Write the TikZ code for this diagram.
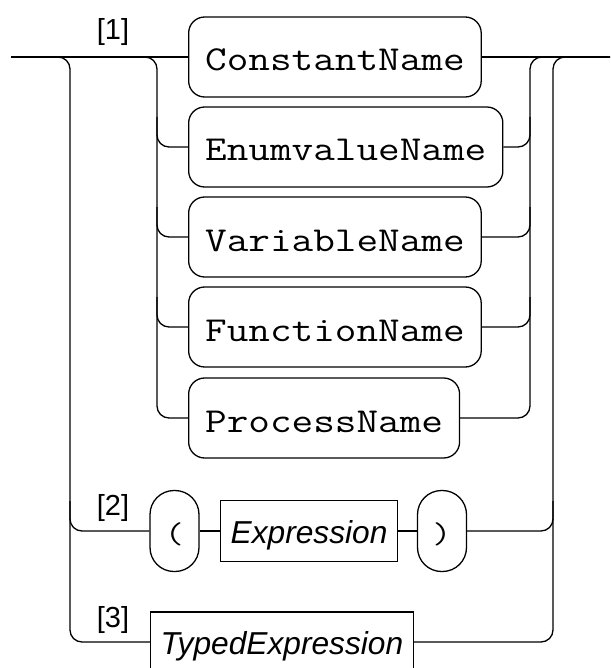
\documentclass[tikz,border=0pt]{standalone}
\usepackage{fontspec}
\setmainfont{Liberation Sans}
\newfontfamily\crfont[FakeStretch=1.2]{Latin Modern Mono}
\usetikzlibrary{calc}
\begin{document}
\begin{tikzpicture}[x=1pt,y=-1pt,line width=1.3pt,
  rail/.style={rounded corners=12pt},
  namebox/.style={draw,rounded corners=16pt,font=\fontsize{35}{35}\crfont,
    text height=30pt,text depth=2pt,minimum height=80pt,inner xsep=16.5pt,inner ysep=0pt,anchor=west},
  parbox/.style={draw,rounded corners=24pt,font=\fontsize{30}{30}\crfont,
    text height=26pt,text depth=2pt,minimum height=81pt,minimum width=49pt,inner sep=0pt},
  ntbox/.style={draw,font=\fontsize{31.7}{32}\selectfont\itshape,
    text height=26pt,text depth=2pt,minimum height=61pt,inner xsep=10pt,inner ysep=0pt,anchor=west},
  lbl/.style={font=\fontsize{29}{29}\selectfont,anchor=base,inner sep=0pt}]
\useasboundingbox (0,0) rectangle (610,668);
\coordinate (start) at (11,57);
\coordinate (end) at (610,57);
\coordinate (lo) at (70,0);
\coordinate (li) at (157,0);
\coordinate (ri) at (530,0);
\coordinate (ro) at (553,0);

\node[namebox] (c1) at (188,57) {ConstantName};
\node[namebox] (c2) at (188,147) {EnumvalueName};
\node[namebox] (c3) at (188,237) {VariableName};
\node[namebox] (c4) at (188,327) {FunctionName};
\node[namebox] (c5) at (188,418) {ProcessName};
\node[parbox] (lp) at (174.5,531) {(};
\node[ntbox] (ex) at (220,531) {Expression};
\node[parbox] (rp) at (442,531) {)};
\node[ntbox,minimum height=60pt] (te) at (150,642) {TypedExpression};

\node[lbl] (l1) at (113,40) {[1]};
\node[lbl] (l2) at (113,515) {[2]};
\node[lbl] (l3) at (113,627) {[3]};

% main line
\draw (start) -- (c1.west);
\draw (c1.east) -- (end);
% left outer
\draw[rail] (start) -| (lo |- te.west) -- (te.west);
\draw[rail] ($(lo |- lp.west)+(0,-30)$) |- (lp.west);
% left inner
\draw[rail] (start) -| (li |- c5.west) -- (c5.west);
\draw[rail] ($(li |- c2.west)+(0,-30)$) |- (c2.west);
\draw[rail] ($(li |- c3.west)+(0,-30)$) |- (c3.west);
\draw[rail] ($(li |- c4.west)+(0,-30)$) |- (c4.west);
% right inner
\draw[rail] (c5.east) -| (ri |- end) -- (end);
\draw[rail] (c2.east) -| ($(ri |- c2.east)+(0,-30)$);
\draw[rail] (c3.east) -| ($(ri |- c3.east)+(0,-30)$);
\draw[rail] (c4.east) -| ($(ri |- c4.east)+(0,-30)$);
% right outer
\draw[rail] (te.east) -| (ro |- end) -- (end);
\draw[rail] (rp.east) -| ($(ro |- rp.east)+(0,-30)$);
% row 2
\draw (lp.east) -- (ex.west);
\draw (ex.east) -- (rp.west);
\end{tikzpicture}
\end{document}
